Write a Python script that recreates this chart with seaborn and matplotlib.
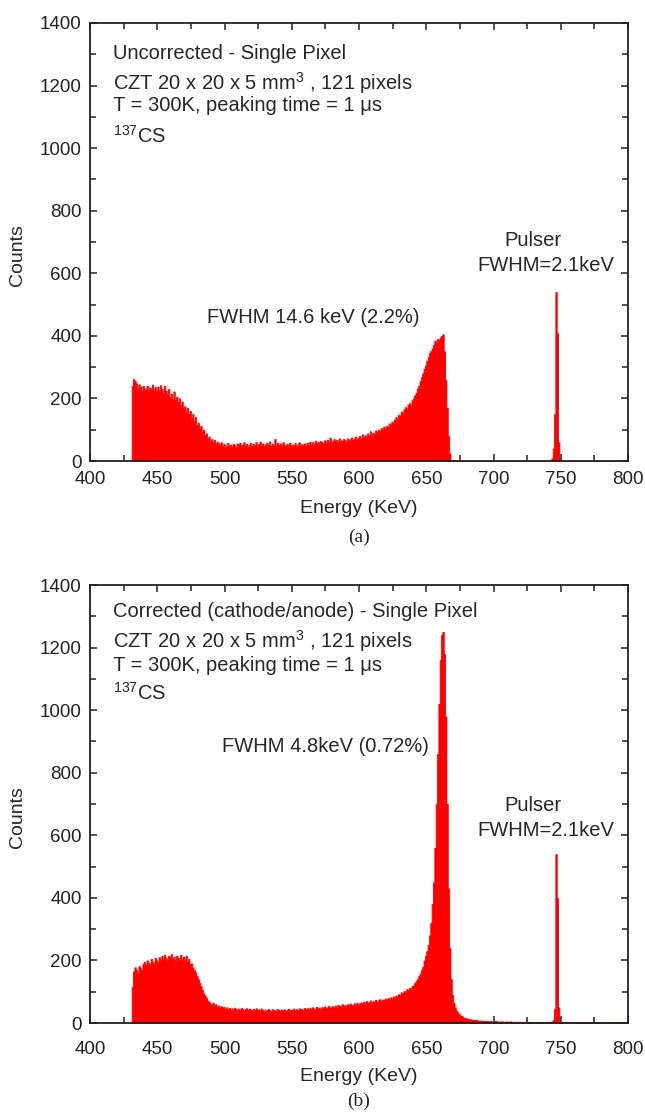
import numpy as np
import pandas as pd
import seaborn as sns
import matplotlib.pyplot as plt
from matplotlib.ticker import MultipleLocator

# 1 keV bins from 430 to 800 keV (left edges 430..799)
bin_start = 430
bin_stop = 800

# uncorrected spectrum, counts per 1 keV bin
counts_a = [
    0, 240, 262, 255, 248, 230, 245, 238, 225, 240,      # 430
    232, 228, 240, 222, 235, 230, 244, 226, 236, 220,    # 440
    238, 226, 242, 230, 218, 240, 225, 212, 230, 205,    # 450
    215, 198, 222, 195, 205, 188, 200, 178, 190, 168,    # 460
    175, 158, 170, 150, 160, 138, 150, 128, 140, 115,    # 470
    122, 105, 112, 95, 100, 82, 88, 72, 78, 65,          # 480
    70, 60, 68, 55, 62, 58, 52, 60, 48, 55,              # 490
    50, 45, 58, 48, 52, 46, 55, 50, 44, 56,              # 500
    50, 58, 47, 53, 60, 49, 55, 46, 52, 58,              # 510
    48, 55, 50, 60, 46, 54, 62, 50, 56, 47,              # 520
    53, 58, 50, 62, 48, 55, 50, 70, 52, 58,              # 530
    50, 56, 47, 60, 52, 48, 55, 50, 58, 46,              # 540
    53, 49, 57, 45, 52, 60, 48, 54, 50, 56,              # 550
    52, 58, 50, 62, 55, 60, 52, 65, 58, 62,              # 560
    56, 64, 60, 58, 66, 60, 68, 62, 75, 60,              # 570
    64, 70, 62, 68, 60, 72, 66, 64, 70, 68,              # 580
    62, 72, 66, 70, 75, 68, 72, 78, 70, 74,              # 590
    80, 72, 85, 76, 82, 78, 88, 80, 95, 84,              # 600
    90, 86, 98, 92, 100, 95, 105, 98, 110, 104,          # 610
    112, 108, 120, 115, 126, 120, 132, 140, 135, 148,    # 620
    145, 158, 152, 165, 172, 168, 180, 185, 178, 195,    # 630
    200, 210, 218, 232, 240, 255, 268, 280, 295, 305,    # 640
    320, 332, 345, 352, 360, 372, 385, 380, 390, 388,    # 650
    395, 400, 405, 350, 260, 170, 80, 25, 0, 0,          # 660
] + [0] * 73 + [
    8, 40, 150, 540, 410, 60, 8,                         # 743 pulser
] + [0] * 50

# corrected (cathode/anode) spectrum
counts_b = [
    0, 115, 165, 178, 170, 160, 182, 175, 168, 190,      # 430
    195, 185, 200, 192, 188, 205, 196, 190, 208, 200,    # 440
    195, 210, 202, 215, 205, 218, 208, 200, 215, 210,    # 450
    220, 205, 212, 198, 215, 208, 200, 218, 205, 212,    # 460
    200, 215, 195, 205, 188, 190, 178, 170, 162, 150,    # 470
    140, 128, 118, 105, 95, 88, 80, 72, 68, 62,          # 480
    58, 65, 55, 60, 52, 56, 50, 54, 48, 52,              # 490
    46, 50, 44, 48, 42, 47, 43, 49, 45, 41,              # 500
    46, 42, 48, 44, 40, 45, 47, 42, 46, 43,              # 510
    40, 45, 42, 47, 41, 44, 40, 46, 42, 38,              # 520
    43, 40, 45, 41, 38, 44, 40, 42, 39, 45,              # 530
    41, 38, 43, 40, 44, 39, 42, 45, 40, 43,              # 540
    42, 46, 41, 44, 40, 47, 43, 45, 42, 48,              # 550
    44, 47, 43, 49, 45, 50, 46, 44, 52, 47,              # 560
    49, 45, 51, 48, 53, 47, 50, 55, 49, 52,              # 570
    54, 50, 56, 52, 58, 53, 55, 60, 54, 57,              # 580
    55, 60, 57, 62, 58, 56, 63, 59, 65, 60,              # 590
    62, 66, 60, 68, 64, 70, 63, 67, 72, 65,              # 600
    70, 68, 74, 66, 72, 76, 70, 75, 73, 78,              # 610
    74, 80, 76, 82, 78, 85, 80, 88, 84, 92,              # 620
    90, 98, 95, 102, 100, 108, 105, 112, 110, 118,       # 630
    120, 128, 135, 140, 150, 158, 170, 180, 200, 215,    # 640
    230, 250, 280, 320, 380, 450, 560, 700, 860, 1020,   # 650
    1160, 1240, 1250, 1180, 980, 700, 430, 240, 140, 90, # 660
    65, 50, 40, 34, 28, 24, 22, 18, 16, 15,              # 670
    14, 12, 12, 11, 10, 10, 9, 9, 8, 8,                  # 680
    8, 7, 7, 7, 6, 6, 6, 6, 5, 5,                        # 690
    5, 6, 5, 5, 4, 5, 5, 4, 4, 5,                        # 700
    4, 4, 5, 4, 4, 3, 4, 4, 3, 4,                        # 710
    4, 3, 3, 4, 3, 3, 4, 3, 3, 3,                        # 720
    3, 3, 4, 3, 3, 3, 3, 4, 3, 3,                        # 730
    3, 3, 4, 5, 10, 45, 540, 400, 50, 6,                 # 740
    4, 3, 3, 3, 4, 3, 3, 3, 3, 3,                        # 750
    3, 3, 2, 3, 3, 2, 3, 3, 3, 2,                        # 760
    3, 2, 3, 3, 2, 3, 2, 3, 3, 2,                        # 770
    2, 3, 2, 2, 3, 2, 3, 2, 2, 3,                        # 780
    2, 2, 3, 2, 2, 2, 3, 2, 2, 2,                        # 790
]

info_lines = ["CZT 20 x 20 x 5 mm$^3$ , 121 pixels",
              "T = 300K, peaking time = 1 \u03bcs",
              "$^{137}$CS"]

sns.set_style("ticks")
plt.rcParams["font.family"] = ["Liberation Sans", "DejaVu Sans"]
plt.rcParams["mathtext.fontset"] = "custom"
plt.rcParams["mathtext.rm"] = "Liberation Sans"
plt.rcParams["mathtext.it"] = "Liberation Sans:italic"

centers = np.arange(bin_start, bin_stop) + 0.5
red = "#ff0000"
txt = 14.5

panels = [
    dict(counts=counts_a, title="Uncorrected - Single Pixel",
         title_y=[1301, 1208, 1135, 1039],
         fwhm="FWHM 14.6 keV (2.2%)", fwhm_xy=(566, 460),
         pulser_y=(706, 626), tag="(a)", tag_y=537,
         bottom=461, tickpad=7, labelpad=9),
    dict(counts=counts_b, title="Corrected (cathode/anode) - Single Pixel",
         title_y=[1314, 1222, 1144, 1056],
         fwhm="FWHM 4.8keV (0.72%)", fwhm_xy=(575, 883),
         pulser_y=(694, 615), tag="(b)", tag_y=1101,
         bottom=1023, tickpad=13, labelpad=7),
]

W, H = 645, 1115
fig = plt.figure(figsize=(W / 100, H / 100), dpi=100)

for p in panels:
    ax = fig.add_axes([90 / W, 1 - p["bottom"] / H, 538 / W, 438 / H])
    df = pd.DataFrame({"energy": centers, "counts": p["counts"]})
    sns.histplot(data=df, x="energy", weights="counts", binwidth=1,
                 binrange=(bin_start, bin_stop),
                 element="step", fill=True, color=red, alpha=1,
                 edgecolor=red, linewidth=0.6, ax=ax)

    ax.set_xlim(400, 800)
    ax.set_ylim(0, 1400)
    ax.xaxis.set_major_locator(MultipleLocator(50))
    ax.xaxis.set_minor_locator(MultipleLocator(25))
    ax.yaxis.set_major_locator(MultipleLocator(200))
    ax.yaxis.set_minor_locator(MultipleLocator(100))
    ax.tick_params(which="both", direction="in", top=True, right=True,
                   width=1.1, colors="#222222")
    ax.tick_params(which="major", length=5, labelsize=13.5)
    ax.tick_params(which="minor", length=4)
    ax.tick_params(axis="x", which="major", pad=p["tickpad"])
    ax.tick_params(axis="y", which="major", pad=6)
    for s in ax.spines.values():
        s.set_linewidth(1.3)
        s.set_color("#222222")
        s.set_zorder(5)

    ax.set_xlabel("Energy (KeV)", fontsize=14, labelpad=p["labelpad"])
    ax.set_ylabel("Counts", fontsize=14)
    ax.yaxis.set_label_coords(-0.119, 0.47)

    ax.text(417, p["title_y"][0], p["title"], fontsize=txt, va="center")
    for line, y in zip(info_lines, p["title_y"][1:]):
        ax.text(417, y, line, fontsize=txt, va="center")
    ax.text(p["fwhm_xy"][0], p["fwhm_xy"][1], p["fwhm"], fontsize=txt,
            ha="center", va="center")
    ax.text(729, p["pulser_y"][0], "Pulser", fontsize=txt,
            ha="center", va="center")
    ax.text(739, p["pulser_y"][1], "FWHM=2.1keV", fontsize=txt,
            ha="center", va="center")

    fig.text(359 / W, 1 - p["tag_y"] / H, p["tag"], fontsize=14,
             family="Liberation Serif", ha="center", va="center")

fig.savefig("out.png", dpi=100)
